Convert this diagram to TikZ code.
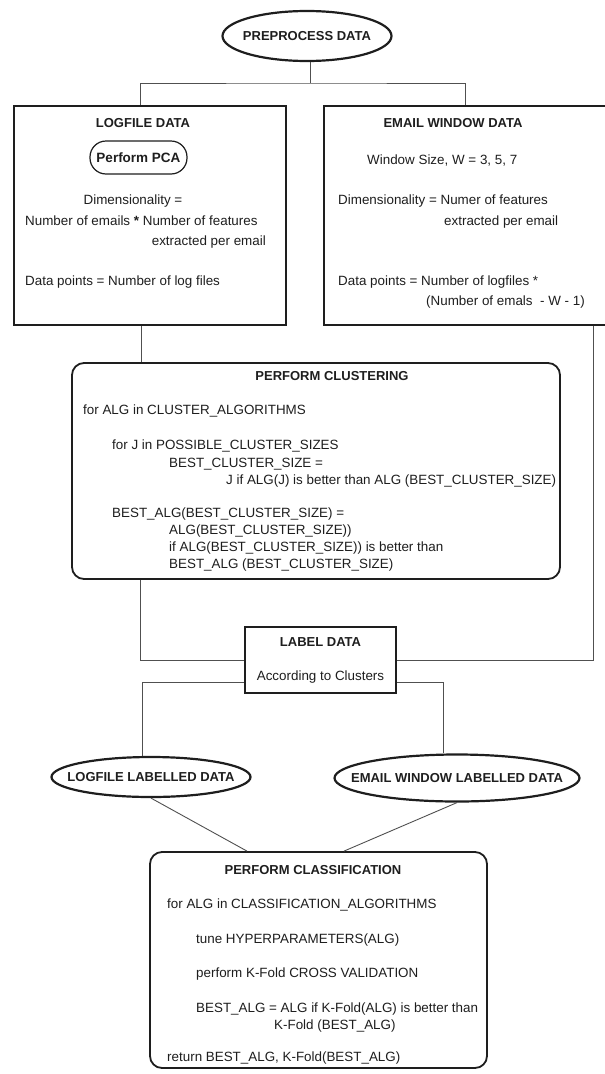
\documentclass[tikz,border=0pt]{standalone}
\usepackage{fontspec}
\setmainfont{Liberation Sans}
\usetikzlibrary{shapes.geometric}
\definecolor{ink}{HTML}{1E1E1E}
\definecolor{wire}{HTML}{505050}
\tikzset{
  box/.style={draw=ink, line width=1.8pt, inner sep=0pt, fill=white},
  rbox/.style={box, rounded corners=12pt},
  oval/.style={draw=ink, line width=2.2pt, ellipse, inner xsep=-40pt, inner ysep=0pt, font=\bfseries\fontsize{13}{16}\selectfont, text=ink},
  pill/.style={draw=ink, line width=1.2pt, rounded corners=16pt, inner sep=0pt, font=\bfseries\fontsize{13.5}{16}\selectfont, text=ink},
  txt/.style={inner sep=0pt, font=\fontsize{13.4}{17}\selectfont, text=ink},
  head/.style={inner sep=0pt, font=\bfseries\fontsize{13}{17}\selectfont, text=ink, anchor=base},
  conn/.style={draw=wire, line width=0.9pt},
}
\begin{document}
\begin{tikzpicture}[x=1pt,y=-1pt]
\useasboundingbox (0,0) rectangle (605,1074);

% main shapes
\node[oval, minimum width=169, minimum height=50] (pre) at (307,36) {PREPROCESS DATA};
\node[box, minimum width=272, minimum height=219] (lf) at (150,215.5) {};
\node[box, minimum width=282, minimum height=219] (em) at (465,215.5) {};
\node[rbox, minimum width=488, minimum height=216] (clust) at (316,471) {};
\node[box, minimum width=151, minimum height=66] (lab) at (320.5,660) {};
\node[oval, minimum width=199, minimum height=40] (llab) at (151,777) {LOGFILE LABELLED DATA};
\node[oval, minimum width=245, minimum height=47] (elab) at (457,778) {EMAIL WINDOW LABELLED DATA};
\node[rbox, minimum width=337, minimum height=216] (cls) at (318.5,960) {};

% connectors
\coordinate (j1) at (310,83);
\draw[conn] (pre.south -| j1) -- (j1);
\draw[conn] (lf.north -| 140,0) |- (j1) -| (em.north -| 465,0);
\draw[conn] (lf.south -| 141,0) -- (clust.north -| 141,0);
\draw[conn] (clust.south -| 140,0) |- (lab.west);
\draw[conn] (em.south -| 593,0) |- (lab.east);
\draw[conn] ([yshift=-22pt]lab.west) -| (llab.north -| 142,0);
\draw[conn] ([yshift=-22pt]lab.east) -| (elab.north -| 443,0);
\draw[conn] (llab.south) -- (cls.north -| 247,0);
\draw[conn] (elab.south) -- (cls.north -| 344,0);

% LOGFILE DATA box
\node[head] (lfh) at (143,127.5) {LOGFILE DATA};
\node[pill, minimum width=97, minimum height=33] (pca) at (138.5,157.5) {Perform PCA};
\node[txt, anchor=base] (lf1) at (133,204.5) {Dimensionality =};
\node[txt, anchor=base west] (lf2) at (25,225.5) {Number of emails \textbf{*} Number of features};
\node[txt, anchor=base east] (lf3) at (266,245.5) {extracted per email};
\node[txt, anchor=base west] (lf4) at (25,285.5) {Data points = Number of log files};

% EMAIL WINDOW DATA box
\node[head] (emh) at (453,127.5) {EMAIL WINDOW DATA};
\node[txt, anchor=base west] (em1) at (367,164.5) {Window Size, W = 3, 5, 7};
\node[txt, anchor=base west] (em2) at (338,204.5) {Dimensionality = Numer of features};
\node[txt, anchor=base west] (em3) at (444,225.5) {extracted per email};
\node[txt, anchor=base west] (em4) at (338,285.5) {Data points = Number of logfiles *};
\node[txt, anchor=base west] (em5) at (426,305.5) {(Number of emals\ \ - W - 1)};

% PERFORM CLUSTERING box
\node[head] (clh) at (332,380.5) {PERFORM CLUSTERING};
\node[txt, anchor=base west] (cl1) at (83,414.5) {for ALG in CLUSTER\_ALGORITHMS};
\node[txt, anchor=base west] (cl2) at (112,449.5) {for J in POSSIBLE\_CLUSTER\_SIZES};
\node[txt, anchor=base west] (cl3) at (169,467.5) {BEST\_CLUSTER\_SIZE =};
\node[txt, anchor=base west] (cl4) at (226,484.5) {J if ALG(J) is better than ALG (BEST\_CLUSTER\_SIZE)};
\node[txt, anchor=base west] (cl5) at (112,517.5) {BEST\_ALG(BEST\_CLUSTER\_SIZE) =};
\node[txt, anchor=base west] (cl6) at (169,534.5) {ALG(BEST\_CLUSTER\_SIZE))};
\node[txt, anchor=base west] (cl7) at (169,551.5) {if ALG(BEST\_CLUSTER\_SIZE)) is better than};
\node[txt, anchor=base west] (cl8) at (169,568.5) {BEST\_ALG (BEST\_CLUSTER\_SIZE)};

% LABEL DATA box
\node[head] (lbh) at (320.5,646.5) {LABEL DATA};
\node[txt, anchor=base] (lb1) at (320.5,680.5) {According to Clusters};

% PERFORM CLASSIFICATION box
\node[head] (csh) at (313,874.5) {PERFORM CLASSIFICATION};
\node[txt, anchor=base west] (cs1) at (167,908.5) {for ALG in CLASSIFICATION\_ALGORITHMS};
\node[txt, anchor=base west] (cs2) at (196,943.5) {tune HYPERPARAMETERS(ALG)};
\node[txt, anchor=base west] (cs3) at (196,977.5) {perform K-Fold CROSS VALIDATION};
\node[txt, anchor=base west] (cs4) at (196,1012.5) {BEST\_ALG = ALG if K-Fold(ALG) is better than};
\node[txt, anchor=base west] (cs5) at (274,1029.5) {K-Fold (BEST\_ALG)};
\node[txt, anchor=base west] (cs6) at (167,1061.5) {return BEST\_ALG, K-Fold(BEST\_ALG)};
\end{tikzpicture}
\end{document}
